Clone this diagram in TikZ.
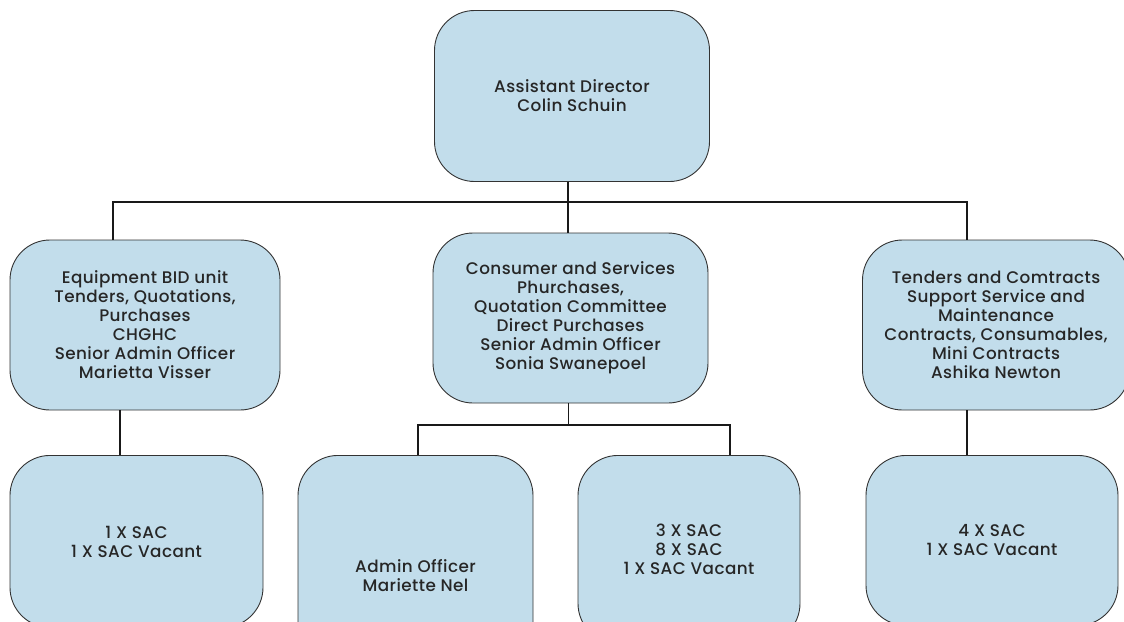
\documentclass[tikz,border=0pt]{standalone}
\usepackage{fontspec}
\setmainfont{Poppins Medium}[LetterSpace=2.5]
\begin{document}
\begin{tikzpicture}[x=1pt,y=1pt,
  unitbox/.style={draw=black!80, line width=0.9pt, fill=boxblue, rounded corners=40pt,
    align=center, inner sep=0pt, font=\fontsize{16.8}{19}\selectfont, text=black!85},
  link/.style={draw=black!90, line width=1.3pt}]
\definecolor{boxblue}{HTML}{C2DDEB}
\useasboundingbox (0,0) rectangle (1124,-621);
\clip (0,0) rectangle (1124,-621);

% head of the unit
\node[unitbox, minimum width=275pt, minimum height=171pt] (head) at (572,-96)
  {Assistant Director\\Colin Schuin};

% second level
\node[unitbox, minimum width=270pt, minimum height=170pt] (equip) at (145,-325)
  {Equipment BID unit\\Tenders, Quotations,\\Purchases\\CHGHC\\Senior Admin Officer\\Marietta Visser};
\node[unitbox, minimum width=275pt, minimum height=170pt] (cons) at (570.5,-318)
  {Consumer and Services\\Phurchases,\\Quotation Committee\\Direct Purchases\\Senior Admin Officer\\Sonia Swanepoel};
\node[unitbox, minimum width=267pt, minimum height=170pt] (tend) at (996,-325)
  {Tenders and Comtracts\\Support Service and\\Maintenance\\Contracts, Consumables,\\Mini Contracts\\Ashika Newton};

% third level
\node[unitbox, minimum width=253pt, minimum height=172pt, anchor=north] (sacA) at (136.5,-455)
  {1 X SAC\\1 X SAC Vacant};
\node[unitbox, minimum width=235pt, minimum height=240pt, anchor=north] (admin) at (415.5,-455)
  {Admin Officer\\Mariette Nel};
\node[unitbox, minimum width=222pt, minimum height=188pt, anchor=north] (sacB) at (689,-455)
  {3 X SAC\\8 X SAC\\1 X SAC Vacant};
\node[unitbox, minimum width=252pt, minimum height=170pt, anchor=north] (sacC) at (992,-455)
  {4 X SAC\\1 X SAC Vacant};

% bus lines and drop points
\coordinate (busA) at (0,-202);
\coordinate (busB) at (0,-425);
\coordinate (xeq) at (113,0);
\coordinate (xeqlow) at (120,0);
\coordinate (xmid) at (568,0);
\coordinate (xtend) at (967,0);
\coordinate (xadmin) at (418,0);
\coordinate (xsacB) at (730,0);

\draw[link] (head.south -| xmid) -- (cons.north -| xmid);
\draw[link] (equip.north -| xeq) |- (busA -| xmid) -| (tend.north -| xtend);
\draw[link] (equip.south -| xeqlow) -- (sacA.north -| xeqlow);
\draw[link] (tend.south -| xtend) -- (sacC.north -| xtend);
\draw[link, line width=0.8pt] (cons.south -| xmid) -- (busB -| xmid);
\draw[link] (admin.north -| xadmin) |- (busB -| xmid) -| (sacB.north -| xsacB);
\end{tikzpicture}
\end{document}
